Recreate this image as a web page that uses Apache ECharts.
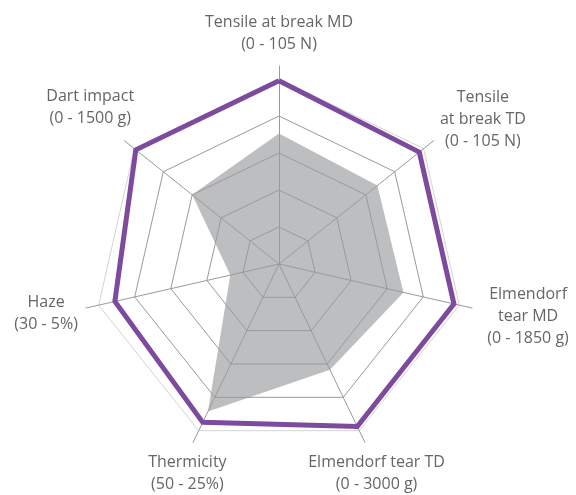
<!DOCTYPE html>
<html>
<head>
<meta charset="utf-8">
<script src="https://cdn.jsdelivr.net/npm/echarts@6/dist/echarts.min.js"></script>
<style>
html,body{margin:0;padding:0;background:#fff;}
#chart{width:576px;height:495px;}
</style>
</head>
<body>
<div id="chart"></div>
<script>
// Indicator order follows ECharts radar (counter-clockwise from top)
var categories = [
  'Tensile at break MD\n(0 - 105 N)',
  'Dart impact\n(0 - 1500 g)',
  'Haze\n(30 - 5%)',
  'Thermicity\n(50 - 25%)',
  'Elmendorf tear TD\n(0 - 3000 g)',
  'Elmendorf\ntear MD\n(0 - 1850 g)',
  'Tensile\nat break TD\n(0 - 105 N)'
];
var scaleMax = 100;
var referenceValues = [99, 99, 91, 95, 97.5, 97, 97];
var productValues = [70.5, 60, 27, 88.5, 63.5, 69, 68];

// label layout (not data)
var nameGaps = [32.5, 52.4, 26, 35, 35, 38, 34];
var namePads = [[0,0,0,0],[0,0,0,14],[0,29,0,0],[0,0,0,19],[0,7,0,0],[0,0,0,38],[0,0,0,45]];

var chart = echarts.init(document.getElementById('chart'));
var font = '"Open Sans", "Noto Sans", sans-serif';

var gridIndicators = categories.map(function (c) { return { name: c, min: 0, max: scaleMax }; });
var nameIndicators = categories.map(function (c, i) {
  return { name: c, min: 0, max: scaleMax, nameGap: nameGaps[i], nameTextStyle: { padding: namePads[i] } };
});

chart.setOption({
  animation: false,
  backgroundColor: '#ffffff',
  radar: [
    {
      center: [279, 264],
      radius: 185,
      startAngle: 90,
      shape: 'polygon',
      splitNumber: 5,
      indicator: gridIndicators,
      axisName: { show: false },
      axisLine: { show: false },
      axisTick: { show: false },
      axisLabel: { show: false },
      splitArea: { show: false },
      splitLine: { lineStyle: { color: ['#9a9a9a','#9a9a9a','#9a9a9a','#9a9a9a','#9a9a9a','#d4d4d4'], width: 1 } },
      z: 3
    },
    {
      center: [279, 264],
      radius: 198,
      startAngle: 90,
      shape: 'polygon',
      splitNumber: 5,
      indicator: nameIndicators,
      axisName: {
        show: true,
        color: '#666666',
        fontFamily: font,
        fontSize: 16,
        lineHeight: 22,
        align: 'center',
        verticalAlign: 'middle'
      },
      axisLine: { show: true, lineStyle: { color: '#9a9a9a', width: 1 } },
      axisTick: { show: false },
      axisLabel: { show: false },
      splitArea: { show: false },
      splitLine: { show: false },
      z: 3
    }
  ],
  series: [
    {
      type: 'radar',
      radarIndex: 0,
      z: 2,
      symbol: 'none',
      lineStyle: { width: 0, opacity: 0 },
      areaStyle: { color: '#bdbec0', opacity: 1 },
      data: [{ value: productValues }]
    },
    {
      type: 'radar',
      radarIndex: 0,
      z: 5,
      symbol: 'none',
      lineStyle: { color: '#7d4a9d', width: 5, join: 'miter' },
      data: [{ value: referenceValues }]
    }
  ]
});
</script>
</body>
</html>
